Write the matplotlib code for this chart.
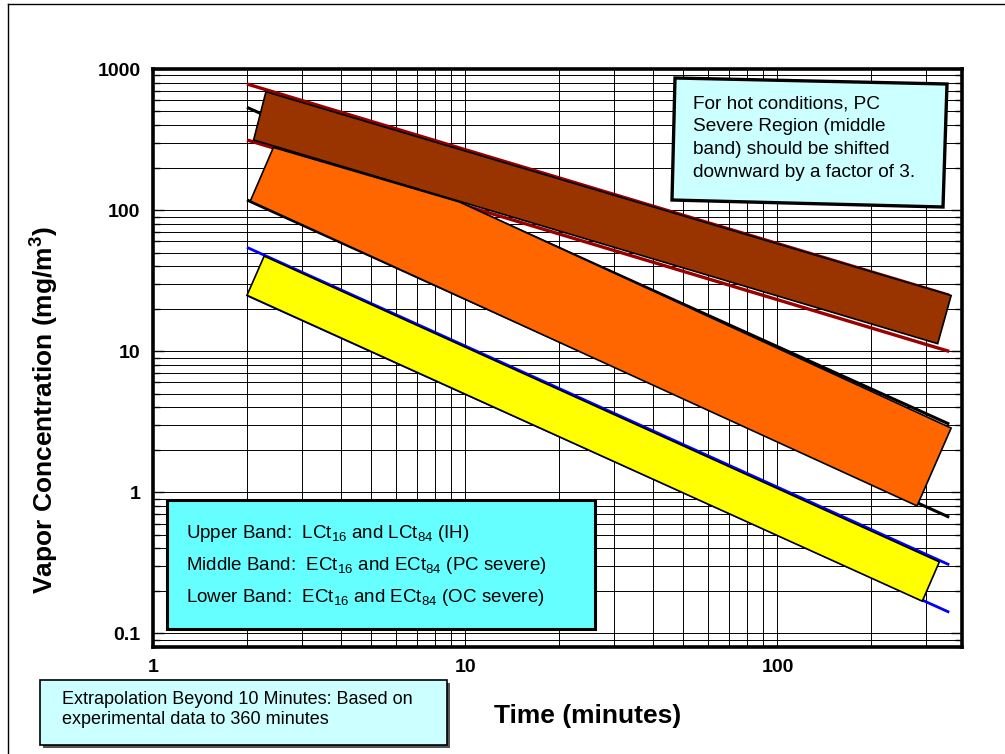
import matplotlib
matplotlib.use("Agg")
import matplotlib.pyplot as plt
from matplotlib.patches import Polygon
from matplotlib.lines import Line2D
from matplotlib.ticker import LogLocator, NullFormatter

plt.rcParams['font.family'] = ['Liberation Sans', 'DejaVu Sans']
plt.rcParams['mathtext.default'] = 'regular'

# reference lines: start / end time (minutes) and concentration (mg/m3)
line_t = [2, 355]
ih_hi = [783, 24.9]      # LCt16 (dark red)
ih_lo = [314, 9.96]      # LCt84 (dark red)
pc_hi = [535, 3.04]      # ECt16 PC severe (black)
pc_lo = [118, 0.665]     # ECt84 PC severe (black)
oc_hi = [54.4, 0.306]    # ECt16 OC severe (blue)
oc_lo = [25, 0.141]      # ECt84 OC severe (blue)

# band outlines (time, concentration)
upper_t = [2.30, 360, 326, 2.10]
upper_c = [690, 24.8, 11.3, 314]
middle_t = [2.05, 2.43, 9.6, 360, 280]
middle_c = [116, 278, 114, 2.85, 0.80]
lower_t = [2.27, 330, 291, 2.0]
lower_c = [47.2, 0.321, 0.169, 24.9]

x_ticks = [1, 10, 100]
x_labels = ['1', '10', '100']
y_ticks = [0.1, 1, 10, 100, 1000]
y_labels = ['0.1', '1', '10', '100', '1000']

legend_lines = ['Upper Band:  LCt$_{16}$ and LCt$_{84}$ (IH)',
                'Middle Band:  ECt$_{16}$ and ECt$_{84}$ (PC severe)',
                'Lower Band:  ECt$_{16}$ and ECt$_{84}$ (OC severe)']
note_lines = ['For hot conditions, PC', 'Severe Region (middle',
              'band) should be shifted', 'downward by a factor of 3.']
extra_lines = ['Extrapolation Beyond 10 Minutes: Based on',
               'experimental data to 360 minutes']

W, H = 1005, 754


def f(x, y):
    # pixel position -> figure fraction
    return (x / W, 1 - y / H)


fig = plt.figure(figsize=(W / 100, H / 100), dpi=100)
ax = fig.add_axes([153 / W, 1 - 647 / H, (962 - 153) / W, (647 - 69) / H])
ax.set_xscale('log')
ax.set_yscale('log')
ax.set_xlim(1, 390)
ax.set_ylim(0.08, 1000)

ax.set_axisbelow(True)
ax.grid(which='both', color='black', lw=0.7)

# lines behind the bands
ax.plot(line_t, ih_hi, color='#990000', lw=2.4, zorder=2, solid_capstyle='butt')
ax.plot(line_t, ih_lo, color='#990000', lw=2.4, zorder=2, solid_capstyle='butt')
ax.plot(line_t, pc_hi, color='black', lw=2.2, zorder=2, solid_capstyle='butt')
ax.plot(line_t, pc_lo, color='black', lw=2.2, zorder=2, solid_capstyle='butt')
ax.plot(line_t, oc_hi, color='#0000FF', lw=2.0, zorder=2, solid_capstyle='butt')
ax.plot(line_t, oc_lo, color='#0000FF', lw=2.0, zorder=2, solid_capstyle='butt')

ax.add_patch(Polygon(list(zip(middle_t, middle_c)), closed=True,
                     fc='#FF6600', ec='black', lw=1.2, zorder=3))
ax.add_patch(Polygon(list(zip(upper_t, upper_c)), closed=True,
                     fc='#993300', ec='black', lw=1.2, zorder=4))
ax.add_patch(Polygon(list(zip(lower_t, lower_c)), closed=True,
                     fc='#FFFF00', ec='black', lw=1.2, zorder=4))

ax.set_xticks(x_ticks)
ax.set_xticklabels(x_labels, fontsize=14, fontweight='bold')
ax.set_yticks(y_ticks)
ax.set_yticklabels(y_labels, fontsize=14, fontweight='bold')
ax.xaxis.set_minor_locator(LogLocator(subs=range(2, 10)))
ax.yaxis.set_minor_locator(LogLocator(subs=range(2, 10), numticks=20))
ax.xaxis.set_minor_formatter(NullFormatter())
ax.yaxis.set_minor_formatter(NullFormatter())
ax.tick_params(which='both', direction='in', left=True, right=True,
               top=False, bottom=False, width=1)
ax.tick_params(which='major', length=8)
ax.tick_params(which='minor', length=5)
ax.tick_params(axis='x', pad=9)
ax.tick_params(axis='y', pad=9)
for s in ax.spines.values():
    s.set_linewidth(2.6)

fig.text(*f(45, 410), 'Vapor Concentration (mg/m$^3$)', rotation=90,
         ha='center', va='center', fontsize=19, fontweight='bold')
fig.text(*f(588, 716), 'Time (minutes)', ha='center', va='center',
         fontsize=19, fontweight='bold')

# legend box
fig.add_artist(Polygon([f(167, 500), f(595, 500), f(595, 629), f(167, 629)],
                       closed=True, transform=fig.transFigure,
                       fc='#66FFFF', ec='black', lw=2.2, zorder=5))
for i, s in enumerate(legend_lines):
    fig.text(*f(186, 533 + 32 * i), s, ha='left', va='center',
             fontsize=13.5, zorder=6)

# note box, slightly tilted
fig.add_artist(Polygon([f(675, 78), f(947, 84), f(943, 207), f(672, 200)],
                       closed=True, transform=fig.transFigure,
                       fc='#CCFFFF', ec='black', lw=2.4, zorder=5))
for i, s in enumerate(note_lines):
    fig.text(*f(693, 104 + 22.7 * i), s, ha='left', va='center',
             fontsize=13.7, zorder=6)

# extrapolation box with shadow
fig.add_artist(Polygon([f(43, 683), f(450, 683), f(450, 748), f(43, 748)],
                       closed=True, transform=fig.transFigure,
                       fc='#555555', ec='none', zorder=5))
fig.add_artist(Polygon([f(40, 680), f(447, 680), f(447, 745), f(40, 745)],
                       closed=True, transform=fig.transFigure,
                       fc='#CCFFFF', ec='black', lw=1.2, zorder=5))
for i, s in enumerate(extra_lines):
    fig.text(*f(62, 700 + 20 * i), s, ha='left', va='center',
             fontsize=13, zorder=6)

# outer frame
fig.add_artist(Line2D([8 / W, 8 / W], [0, 1 - 4 / H], color='black', lw=1,
                      transform=fig.transFigure))
fig.add_artist(Line2D([8 / W, 1], [1 - 4 / H, 1 - 4 / H], color='black', lw=1,
                      transform=fig.transFigure))

fig.savefig('out.png', dpi=100)
plt.close(fig)
